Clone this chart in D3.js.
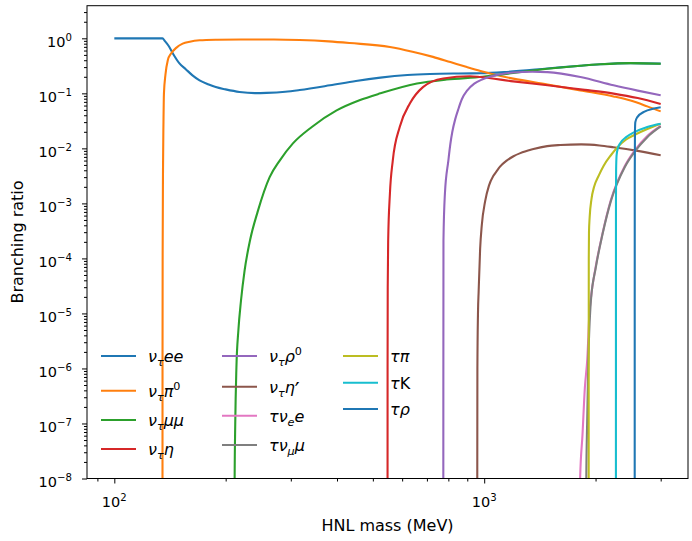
<!DOCTYPE html>
<html>
<head>
<meta charset="utf-8">
<script src="https://cdn.jsdelivr.net/npm/d3@7"></script>
<style>
  body { margin: 0; background: #fff; }
  svg { display: block; }
  text { font-family: "DejaVu Sans", sans-serif; fill: #000; }
</style>
</head>
<body>
<svg id="chart" width="692" height="541"></svg>
<script>
// HNL branching ratios, [mass MeV, BR]
const nuEE = [[100,1],[120,1],[134.97,1],[137,0.89],[140,0.74],[144,0.53],[150,0.35],[156,0.275],[163,0.21],[170,0.172],[180,0.145],[188,0.13],[200,0.118],[218,0.106],[240,0.101],[258,0.102],[290,0.107],[317,0.115],[383,0.14],[450,0.168],[524,0.193],[620,0.215],[714,0.225],[850,0.23],[977,0.232],[1150,0.245],[1480,0.282],[1820,0.318],[2060,0.338],[2487,0.355],[3000,0.347]];
const nuPi0 = [[134.97,1e-10],[134.98,1e-8],[135.0,1e-6],[135.1,1e-4],[135.4,4e-3],[135.8,0.03],[136.2,0.1],[137.5,0.22],[139.5,0.4],[142.4,0.53],[147,0.67],[153,0.8],[160,0.87],[170,0.92],[190,0.945],[220,0.955],[270,0.955],[317,0.935],[380,0.88],[433,0.82],[556,0.695],[640,0.57],[727,0.46],[810,0.37],[898,0.3],[977,0.255],[1050,0.225],[1198,0.185],[1483,0.145],[1820,0.113],[2237,0.088],[2487,0.074],[2760,0.058],[3000,0.047]];
const nuMuMu = [[211.3,1e-10],[211.5,1e-8],[212.3,1e-7],[213.8,1e-6],[216.5,5e-6],[220,1.7e-5],[225,6e-5],[233,2.2e-4],[244,7e-4],[263,3e-3],[280,6e-3],[304,0.0123],[342,0.0245],[399,0.049],[460,0.075],[524,0.1],[658,0.151],[792,0.178],[990,0.2],[1198,0.235],[1483,0.28],[1820,0.318],[2060,0.338],[2487,0.355],[3000,0.346]];
const nuEta = [[547.86,1e-10],[547.9,1e-8],[548.0,1e-6],[548.5,3e-5],[550,2.1e-4],[556,1.5e-3],[566,6e-3],[591,0.0245],[630,0.066],[683,0.13],[775,0.186],[914,0.204],[977,0.198],[1198,0.165],[1483,0.14],[1820,0.118],[2237,0.099],[2600,0.082],[3000,0.064]];
const nuRho0 = [[775.2,1e-10],[775.3,1e-8],[775.5,1e-6],[776,2.1e-4],[783,1.5e-3],[800,6e-3],[810,0.012],[820,0.02],[835,0.034],[850,0.05],[870,0.078],[900,0.113],[940,0.15],[990,0.18],[1080,0.215],[1198,0.24],[1350,0.247],[1483,0.243],[1820,0.198],[2237,0.14],[2600,0.112],[3000,0.092]];
const nuEtaP = [[957.7,1e-10],[957.8,1e-8],[958.5,1e-6],[962,1e-5],[966,2.5e-5],[975,1.5e-4],[985,4e-4],[1006,1.1e-3],[1030,2.1e-3],[1060,3.2e-3],[1082,3.9e-3],[1105,4.7e-3],[1150,6e-3],[1200,7.2e-3],[1252,8.2e-3],[1350,9.6e-3],[1480,0.011],[1607,0.0115],[1830,0.0118],[2050,0.0113],[2235,0.0105],[2600,0.009],[3000,0.0075]];
const tauNuE = [[1777.9,1e-14],[1800,1e-10],[1817,1e-8],[1844,6.3e-8],[1871,4.4e-7],[1900,1.5e-6],[1925,1e-5],[1943,1.9e-5],[2003,7.2e-5],[2090,2.9e-4],[2200,1.15e-3],[2400,4.8e-3],[2545,8.9e-3],[2760,0.0167],[3000,0.0255]];
const tauNuMu = [[1882.5,1e-12],[1886,1e-9],[1888,1e-8],[1898,1e-7],[1910,1e-6],[1943,1.7e-5],[2003,6.8e-5],[2090,2.8e-4],[2200,1.1e-3],[2400,4.6e-3],[2545,8.5e-3],[2760,0.016],[3000,0.025]];
const tauPi = [[1916.4,1e-10],[1916.6,1e-6],[1917.5,1e-4],[1920,3e-4],[1928,5.6e-4],[1950,1.2e-3],[1982,2e-3],[2040,3.2e-3],[2102,4.8e-3],[2200,7.5e-3],[2293,0.0105],[2420,0.0145],[2545,0.0175],[2760,0.0225],[3000,0.028]];
const tauK = [[2270.4,1e-10],[2270.6,1e-5],[2271,1e-3],[2273,4e-3],[2280,7.5e-3],[2300,0.0102],[2330,0.0123],[2420,0.016],[2540,0.0195],[2760,0.0245],[3000,0.028]];
const tauRho = [[2552,1e-10],[2552.3,1e-5],[2553,3e-3],[2556,0.02],[2562,0.03],[2594,0.037],[2703,0.046],[2876,0.053],[3000,0.056]];

const seriesData = [nuEE, nuPi0, nuMuMu, nuEta, nuRho0, nuEtaP, tauNuE, tauNuMu, tauPi, tauK, tauRho];
const colors = ["#1f77b4", "#ff7f0e", "#2ca02c", "#d62728", "#9467bd", "#8c564b", "#e377c2", "#7f7f7f", "#bcbd22", "#17becf", "#1f77b4"];
// label pieces: [text, italic?, sub/sup/prime]
const labels = [
  [["ν",1],["τ",1,"sub"],["ee",1]],
  [["ν",1],["τ",1,"sub"],["π",1],["0",0,"sup"]],
  [["ν",1],["τ",1,"sub"],["μμ",1]],
  [["ν",1],["τ",1,"sub"],["η",1]],
  [["ν",1],["τ",1,"sub"],["ρ",1],["0",0,"sup"]],
  [["ν",1],["τ",1,"sub"],["η",1],["′",0,"prime"]],
  [["τν",1],["e",1,"sub"],["e",1]],
  [["τν",1],["μ",1,"sub"],["μ",1]],
  [["τπ",1]],
  [["τ",1],["K",0]],
  [["τρ",1]]
];
const xMajor = [100, 1000];
const yExponents = [-8, -7, -6, -5, -4, -3, -2, -1, 0];

const svg = d3.select("#chart");
const plotL = 87, plotR = 688, plotT = 5.7, plotB = 478.5;

// matplotlib style 5% log margins on x
const lo = Math.log10(100), hi = Math.log10(3000), pad = 0.05 * (hi - lo);
const x = d3.scaleLog().domain([10 ** (lo - pad), 10 ** (hi + pad)]).range([plotL, plotR]);
const y = d3.scaleLog().domain([1e-8, 10 ** 0.593]).range([plotB, plotT]);

svg.append("defs").append("clipPath").attr("id", "plot-clip")
  .append("rect").attr("x", plotL).attr("y", plotT).attr("width", plotR - plotL).attr("height", plotB - plotT);

// minor ticks
const xMinor = [];
[1, 2, 3].forEach(e => d3.range(2, 10).forEach(k => {
  const v = k * 10 ** e;
  if (v > x.domain()[0] && v < x.domain()[1]) xMinor.push(v);
}));
const yMinor = [];
yExponents.forEach(e => d3.range(2, 10).forEach(k => {
  const v = k * 10 ** e;
  if (v < y.domain()[1]) yMinor.push(v);
}));

function styleAxis(g) {
  g.select(".domain").remove();
  g.selectAll("line").attr("stroke", "#000").attr("stroke-width", 1);
}
svg.append("g").attr("transform", `translate(0,${plotB})`)
  .call(d3.axisBottom(x).tickValues(xMinor).tickSize(3).tickFormat("")).call(styleAxis);
svg.append("g").attr("transform", `translate(0,${plotB})`)
  .call(d3.axisBottom(x).tickValues(xMajor).tickSize(5).tickFormat("")).call(styleAxis);
svg.append("g").attr("transform", `translate(${plotL},0)`)
  .call(d3.axisLeft(y).tickValues(yMinor).tickSize(3).tickFormat("")).call(styleAxis);
svg.append("g").attr("transform", `translate(${plotL},0)`)
  .call(d3.axisLeft(y).tickValues(yExponents.map(e => 10 ** e)).tickSize(5).tickFormat("")).call(styleAxis);

// power-of-ten labels
function powerLabel(t, exp, fs) {
  t.append("tspan").text("10");
  t.append("tspan").attr("font-size", fs * 0.7).attr("dy", -fs * 0.42)
    .text(exp < 0 ? "\u2212" + (-exp) : String(exp));
}
const tickFs = 14.5;
xMajor.forEach(v => {
  const t = svg.append("text").attr("x", x(v)).attr("y", 507).attr("text-anchor", "middle").attr("font-size", tickFs);
  powerLabel(t, Math.round(Math.log10(v)), tickFs);
});
yExponents.forEach(e => {
  const t = svg.append("text").attr("x", 72).attr("y", y(10 ** e) + 8.5).attr("text-anchor", "end").attr("font-size", tickFs);
  powerLabel(t, e, tickFs);
});

svg.append("text").attr("x", (plotL + plotR) / 2).attr("y", 531).attr("text-anchor", "middle")
  .attr("font-size", 16).text("HNL mass (MeV)");
svg.append("text").attr("transform", "translate(23,242) rotate(-90)").attr("text-anchor", "middle")
  .attr("font-size", 16).text("Branching ratio");

// curves
const line = d3.line().x(d => x(d[0])).y(d => y(d[1])).curve(d3.curveMonotoneX);
svg.append("g").attr("clip-path", "url(#plot-clip)")
  .selectAll("path").data(seriesData).join("path")
  .attr("d", line)
  .attr("fill", "none")
  .attr("stroke", (d, i) => colors[i])
  .attr("stroke-width", 2.1)
  .attr("stroke-linejoin", "round");

// frame
svg.append("rect").attr("x", plotL).attr("y", plotT).attr("width", plotR - plotL).attr("height", plotB - plotT)
  .attr("fill", "none").attr("stroke", "#000").attr("stroke-width", 1);

// legend, 3 columns
const legendFs = 16;
const colX = [101, 222, 343];
const rowY = [[356, 390.7, 420, 449], [356, 386.7, 415.7, 445], [356, 382.7, 409]];
let idx = 0;
rowY.forEach((rows, c) => rows.forEach(ry => {
  const i = idx++;
  const g = svg.append("g");
  g.append("line").attr("x1", colX[c]).attr("x2", colX[c] + 35).attr("y1", ry).attr("y2", ry)
    .attr("stroke", colors[i]).attr("stroke-width", 2.1);
  const t = g.append("text").attr("x", colX[c] + 47).attr("y", ry + 6).attr("font-size", legendFs);
  let shift = 0;
  labels[i].forEach(([txt, it, pos]) => {
    const target = pos === "sub" ? legendFs * 0.24 : pos === "sup" ? -legendFs * 0.45 : pos === "prime" ? legendFs * 0.3 : 0;
    const s = t.append("tspan").text(txt).attr("dy", target - shift)
      .attr("font-style", it ? "italic" : "normal");
    if (pos === "sub" || pos === "sup") s.attr("font-size", legendFs * 0.7);
    if (pos === "prime") s.attr("font-size", legendFs * 1.35);
    shift = target;
  });
}));
</script>
</body>
</html>
